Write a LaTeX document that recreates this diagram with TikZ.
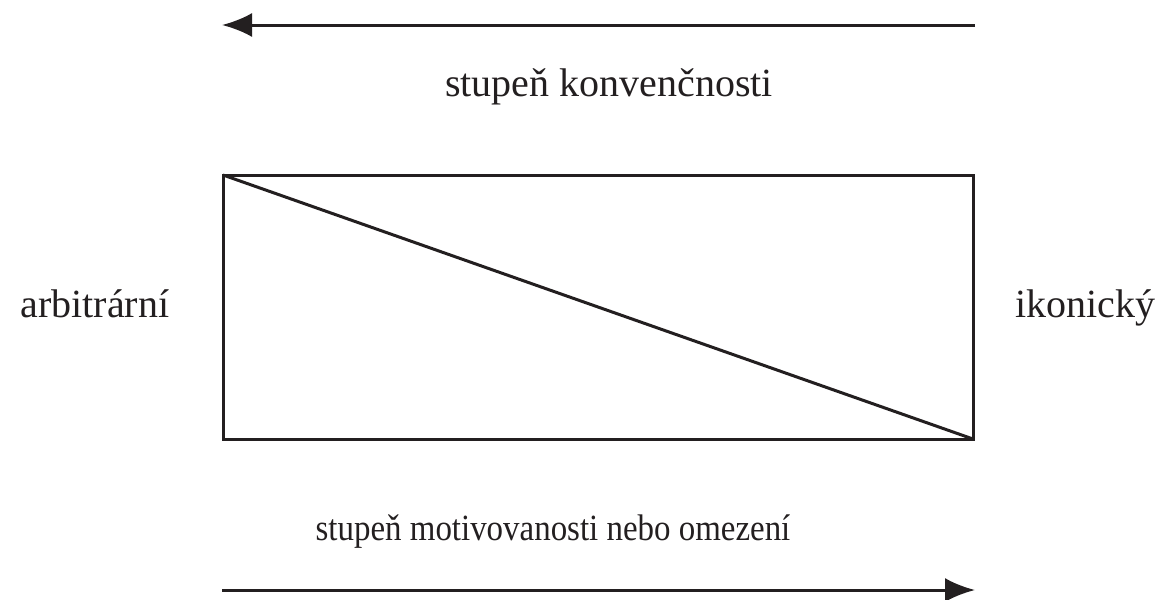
\documentclass[tikz,border=0pt]{standalone}
\usepackage{fontspec}
\setmainfont{Liberation Serif}
\usetikzlibrary{arrows.meta}
\definecolor{ink}{HTML}{231F20}
\tikzset{
  lbl/.style={anchor=base, inner sep=0pt, font=\fontsize{40}{46}\selectfont, text=ink},
  ln/.style={draw=ink, line width=3pt},
  arr/.style={ln, -{Latex[length=30pt,width=24pt]}}
}
\begin{document}
\begin{tikzpicture}[x=1pt,y=-1pt]
\useasboundingbox (0,0) rectangle (1160,600);
% top arrow
\coordinate (ta) at (975,25);
\coordinate (tb) at (222,25);
\draw[arr] (ta) -- (tb);
\node[lbl] (konv) at (609,96) {stupeň konvenčnosti};
% box
\coordinate (tl) at (223,175);
\coordinate (br) at (973,439);
\draw[ln] (tl) rectangle (br);
\draw[ln] (tl) -- (br);
\node[lbl] (arb) at (95,317) {arbitrární};
\node[lbl] (ikon) at (1085,317) {ikonický};
% bottom
\node[lbl, font=\fontsize{37}{43}\selectfont, xscale=0.89, transform shape] (mot) at (553,540) {stupeň motivovanosti nebo omezení};
\coordinate (ba) at (222,590);
\coordinate (bb) at (975,590);
\draw[arr] (ba) -- (bb);
\end{tikzpicture}
\end{document}
